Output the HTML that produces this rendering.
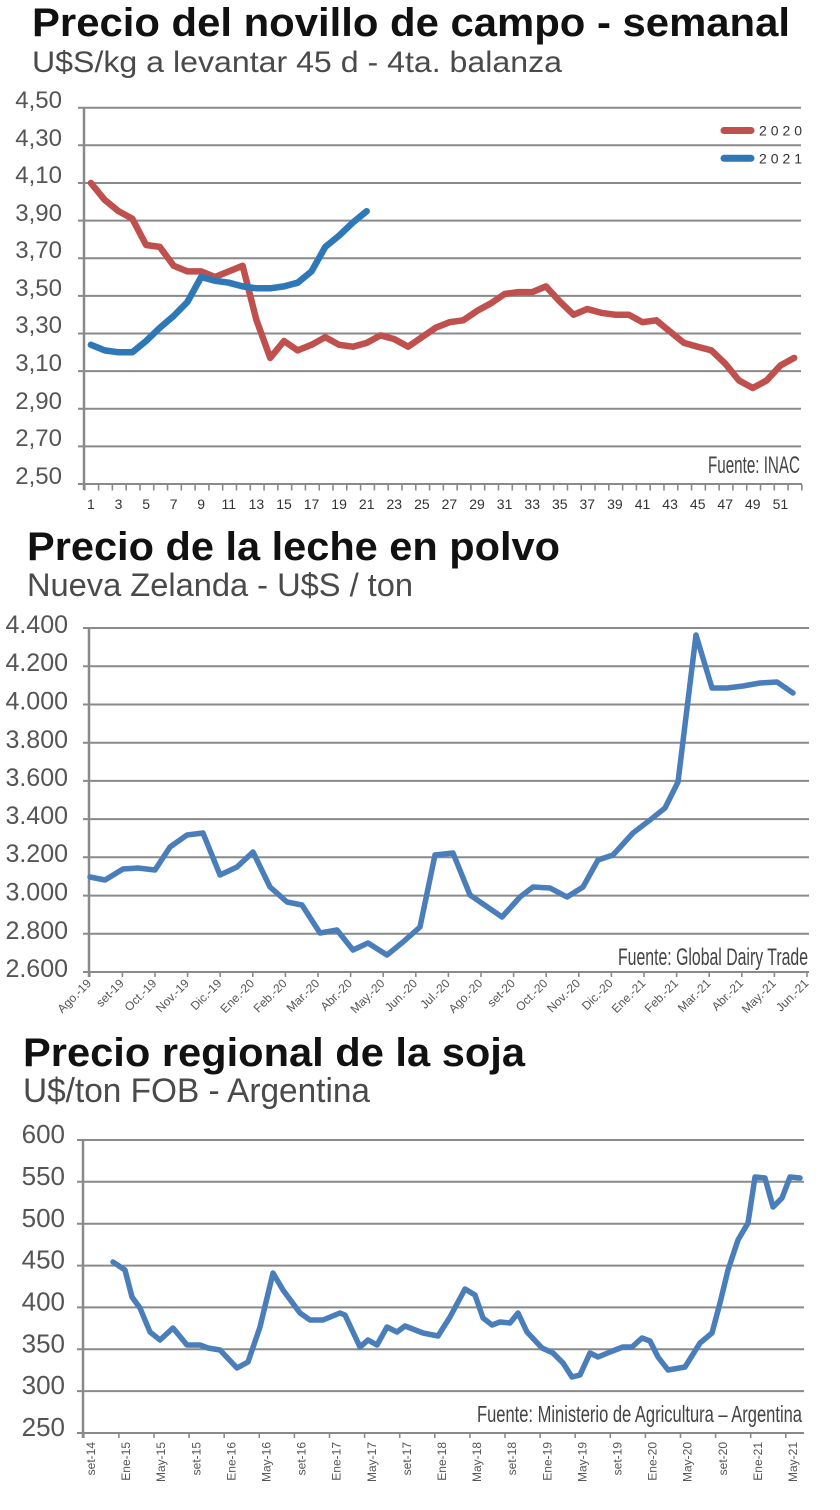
<!DOCTYPE html>
<html><head><meta charset="utf-8">
<style>html,body{margin:0;padding:0;background:#fff}svg{display:block}</style>
</head><body>
<svg width="840" height="1510" viewBox="0 0 840 1510" xmlns="http://www.w3.org/2000/svg" font-family="'Liberation Sans', Arial, sans-serif">
<rect width="840" height="1510" fill="#fff"/>

<!-- ================= CHART 1 ================= -->
<text x="32" y="36" font-size="40" font-weight="bold" fill="#111" textLength="758" lengthAdjust="spacingAndGlyphs">Precio del novillo de campo - semanal</text>
<text x="32" y="72" font-size="30" fill="#4a4a4a" textLength="530" lengthAdjust="spacingAndGlyphs">U$S/kg a levantar 45 d - 4ta. balanza</text>

<g stroke="#8a8a8a" stroke-width="2">
<line x1="78" y1="107.7" x2="801" y2="107.7"/>
<line x1="78" y1="145.3" x2="801" y2="145.3"/>
<line x1="78" y1="183" x2="801" y2="183"/>
<line x1="78" y1="220.6" x2="801" y2="220.6"/>
<line x1="78" y1="258.2" x2="801" y2="258.2"/>
<line x1="78" y1="295.9" x2="801" y2="295.9"/>
<line x1="78" y1="333.5" x2="801" y2="333.5"/>
<line x1="78" y1="371.1" x2="801" y2="371.1"/>
<line x1="78" y1="408.7" x2="801" y2="408.7"/>
<line x1="78" y1="446.4" x2="801" y2="446.4"/>
<line x1="78" y1="484" x2="802" y2="484"/>
<line x1="84" y1="107" x2="84" y2="490" stroke-width="2.5"/>
</g>
<line x1="84" y1="487.5" x2="803" y2="487.5" stroke="#8a8a8a" stroke-width="6" stroke-dasharray="1.6 12.19"/>

<g font-size="24" fill="#555" text-anchor="end">
<text x="62" y="108">4,50</text>
<text x="62" y="146">4,30</text>
<text x="62" y="183">4,10</text>
<text x="62" y="221">3,90</text>
<text x="62" y="258">3,70</text>
<text x="62" y="296">3,50</text>
<text x="62" y="333">3,30</text>
<text x="62" y="371">3,10</text>
<text x="62" y="409">2,90</text>
<text x="62" y="446">2,70</text>
<text x="62" y="484">2,50</text>
</g>

<g font-size="14" fill="#333" text-anchor="middle">
<text x="90.9" y="509">1</text><text x="118.5" y="509">3</text><text x="146.1" y="509">5</text>
<text x="173.6" y="509">7</text><text x="201.2" y="509">9</text><text x="228.8" y="509">11</text>
<text x="256.4" y="509">13</text><text x="284" y="509">15</text><text x="311.5" y="509">17</text>
<text x="339.1" y="509">19</text><text x="366.7" y="509">21</text><text x="394.3" y="509">23</text>
<text x="421.9" y="509">25</text><text x="449.4" y="509">27</text><text x="477" y="509">29</text>
<text x="504.6" y="509">31</text><text x="532.2" y="509">33</text><text x="559.8" y="509">35</text>
<text x="587.3" y="509">37</text><text x="614.9" y="509">39</text><text x="642.5" y="509">41</text>
<text x="670.1" y="509">43</text><text x="697.7" y="509">45</text><text x="725.2" y="509">47</text>
<text x="752.8" y="509">49</text><text x="780.4" y="509">51</text>
</g>

<text x="708" y="473" font-size="24" fill="#444" font-family="'Liberation Sans Narrow','Liberation Sans',sans-serif" textLength="92" lengthAdjust="spacingAndGlyphs">Fuente: INAC</text>

<!-- legend -->
<line x1="724" y1="130.5" x2="751" y2="130.5" stroke="#c0504d" stroke-width="7" stroke-linecap="round"/>
<text x="759" y="135.5" font-size="14" fill="#333" textLength="43" lengthAdjust="spacing">2020</text>
<line x1="724" y1="158.3" x2="751" y2="158.3" stroke="#2e78b7" stroke-width="7" stroke-linecap="round"/>
<text x="759" y="163.3" font-size="14" fill="#333" textLength="43" lengthAdjust="spacing">2021</text>

<polyline fill="none" stroke="#c0504d" stroke-width="6.5" stroke-linejoin="round" stroke-linecap="round"
points="90.9,183 104.7,199.9 118.5,211.2 132.3,218.7 146.1,245 159.8,246.9 173.6,265.7 187.4,271.4 201.2,271.4 215,277 228.8,271.4 242.6,265.7 256.4,320 270.2,357.9 284,341 297.7,350.4 311.5,344.8 325.3,337.2 339.1,344.8 352.9,346.7 366.7,342.9 380.5,335.4 394.3,339.1 408.1,346.7 421.9,337.2 435.6,327.8 449.4,322.2 463.2,320.3 477,310.9 490.8,303.4 504.6,294 518.4,292.1 532.2,292.1 546,286.4 559.8,301.5 573.5,314.7 587.3,309 601.1,312.8 614.9,314.7 628.7,314.7 642.5,322.2 656.3,320.3 670.1,331.6 683.9,342.9 697.7,346.7 711.4,350.4 725.2,363.6 739,380.5 752.8,388 766.6,380.5 780.4,365.5 794.2,357.9"/>
<polyline fill="none" stroke="#2e78b7" stroke-width="6.5" stroke-linejoin="round" stroke-linecap="round"
points="90.9,344.8 104.7,350.4 118.5,352.3 132.3,352.3 146.1,341 159.8,327.8 173.6,316 187.4,302 201.2,277 215,280.8 228.8,282.7 242.6,286.4 256.4,288.3 270.2,288.3 284,286.4 297.7,282.7 311.5,271.4 325.3,246.9 339.1,235.6 352.9,222.5 366.7,211.2"/>

<!-- ================= CHART 2 ================= -->
<text x="27" y="560" font-size="40" font-weight="bold" fill="#111" textLength="533" lengthAdjust="spacingAndGlyphs">Precio de la leche en polvo</text>
<text x="27" y="596" font-size="32" fill="#4a4a4a" textLength="386" lengthAdjust="spacingAndGlyphs">Nueva Zelanda - U$S / ton</text>

<g stroke="#8a8a8a" stroke-width="2">
<line x1="83" y1="628" x2="809" y2="628"/>
<line x1="83" y1="666.2" x2="809" y2="666.2"/>
<line x1="83" y1="704.5" x2="809" y2="704.5"/>
<line x1="83" y1="742.7" x2="809" y2="742.7"/>
<line x1="83" y1="780.9" x2="809" y2="780.9"/>
<line x1="83" y1="819.1" x2="809" y2="819.1"/>
<line x1="83" y1="857.3" x2="809" y2="857.3"/>
<line x1="83" y1="895.6" x2="809" y2="895.6"/>
<line x1="83" y1="933.8" x2="809" y2="933.8"/>
<line x1="83" y1="972" x2="809" y2="972"/>
<line x1="89" y1="627" x2="89" y2="977" stroke-width="2.5"/>
</g>
<line x1="89" y1="974.5" x2="808" y2="974.5" stroke="#8a8a8a" stroke-width="5" stroke-dasharray="1.6 31"/>

<g font-size="25" fill="#555" text-anchor="end">
<text x="68" y="633">4.400</text>
<text x="68" y="671">4.200</text>
<text x="68" y="709.5">4.000</text>
<text x="68" y="748">3.800</text>
<text x="68" y="786">3.600</text>
<text x="68" y="824">3.400</text>
<text x="68" y="862">3.200</text>
<text x="68" y="900.5">3.000</text>
<text x="68" y="939">2.800</text>
<text x="68" y="977">2.600</text>
</g>

<g font-size="12" fill="#555" text-anchor="end">
<text transform="translate(92,984) rotate(-45)">Ago.-19</text>
<text transform="translate(124.6,984) rotate(-45)">set-19</text>
<text transform="translate(157.2,984) rotate(-45)">Oct.-19</text>
<text transform="translate(189.8,984) rotate(-45)">Nov.-19</text>
<text transform="translate(222.4,984) rotate(-45)">Dic.-19</text>
<text transform="translate(255,984) rotate(-45)">Ene.-20</text>
<text transform="translate(287.6,984) rotate(-45)">Feb.-20</text>
<text transform="translate(320.2,984) rotate(-45)">Mar.-20</text>
<text transform="translate(352.8,984) rotate(-45)">Abr.-20</text>
<text transform="translate(385.4,984) rotate(-45)">May.-20</text>
<text transform="translate(418,984) rotate(-45)">Jun.-20</text>
<text transform="translate(450.6,984) rotate(-45)">Jul.-20</text>
<text transform="translate(483.2,984) rotate(-45)">Ago.-20</text>
<text transform="translate(515.8,984) rotate(-45)">set-20</text>
<text transform="translate(548.4,984) rotate(-45)">Oct.-20</text>
<text transform="translate(581,984) rotate(-45)">Nov.-20</text>
<text transform="translate(613.6,984) rotate(-45)">Dic.-20</text>
<text transform="translate(646.2,984) rotate(-45)">Ene.-21</text>
<text transform="translate(678.8,984) rotate(-45)">Feb.-21</text>
<text transform="translate(711.4,984) rotate(-45)">Mar.-21</text>
<text transform="translate(744,984) rotate(-45)">Abr.-21</text>
<text transform="translate(776.6,984) rotate(-45)">May.-21</text>
<text transform="translate(809.2,984) rotate(-45)">Jun.-21</text>
</g>

<text x="618" y="965" font-size="24" fill="#444" font-family="'Liberation Sans Narrow','Liberation Sans',sans-serif" textLength="190" lengthAdjust="spacingAndGlyphs">Fuente: Global Dairy Trade</text>

<polyline fill="none" stroke="#4a7ebb" stroke-width="5.5" stroke-linejoin="round" stroke-linecap="round"
points="90,877 105,880 123,869 138,868 155,870 170,847 187,835 203,833 220,875 237,867 253,852 270,887 287,902 302,905 320,933 337,930 353,950 368,943 387,955 403,942 420,927 435,855 453,853 470,895 502,917 520,897 533,887 550,888 567,897 583,887 598,860 613,855 633,833 650,820 665,808 678,782 696,635 712,688 727,688 743,686 760,683 777,682 793,693"/>

<!-- ================= CHART 3 ================= -->
<text x="23" y="1066" font-size="40" font-weight="bold" fill="#111" textLength="502" lengthAdjust="spacingAndGlyphs">Precio regional de la soja</text>
<text x="23" y="1102" font-size="34" fill="#4a4a4a" textLength="347" lengthAdjust="spacingAndGlyphs">U$/ton FOB - Argentina</text>

<g stroke="#8a8a8a" stroke-width="2">
<line x1="77" y1="1140" x2="804" y2="1140"/>
<line x1="77" y1="1181.8" x2="804" y2="1181.8"/>
<line x1="77" y1="1223.7" x2="804" y2="1223.7"/>
<line x1="77" y1="1265.6" x2="804" y2="1265.6"/>
<line x1="77" y1="1307.4" x2="804" y2="1307.4"/>
<line x1="77" y1="1349.3" x2="804" y2="1349.3"/>
<line x1="77" y1="1391.1" x2="804" y2="1391.1"/>
<line x1="77" y1="1433" x2="804" y2="1433"/>
<line x1="83" y1="1139" x2="83" y2="1438" stroke-width="2.5"/>
</g>
<line x1="83" y1="1435.5" x2="790" y2="1435.5" stroke="#8a8a8a" stroke-width="5" stroke-dasharray="1.6 33.5"/>

<g font-size="26" fill="#555" text-anchor="end">
<text x="65" y="1143">600</text>
<text x="65" y="1185">550</text>
<text x="65" y="1227">500</text>
<text x="65" y="1268.5">450</text>
<text x="65" y="1310.5">400</text>
<text x="65" y="1352.5">350</text>
<text x="65" y="1394">300</text>
<text x="65" y="1436">250</text>
</g>

<g font-size="12" fill="#555" text-anchor="end">
<text transform="translate(95,1442) rotate(-90)">set-14</text>
<text transform="translate(130.1,1442) rotate(-90)">Ene-15</text>
<text transform="translate(165.2,1442) rotate(-90)">May-15</text>
<text transform="translate(200.3,1442) rotate(-90)">set-15</text>
<text transform="translate(235.4,1442) rotate(-90)">Ene-16</text>
<text transform="translate(270.5,1442) rotate(-90)">May-16</text>
<text transform="translate(305.6,1442) rotate(-90)">set-16</text>
<text transform="translate(340.7,1442) rotate(-90)">Ene-17</text>
<text transform="translate(375.8,1442) rotate(-90)">May-17</text>
<text transform="translate(410.9,1442) rotate(-90)">set-17</text>
<text transform="translate(446,1442) rotate(-90)">Ene-18</text>
<text transform="translate(481.1,1442) rotate(-90)">May-18</text>
<text transform="translate(516.2,1442) rotate(-90)">set-18</text>
<text transform="translate(551.3,1442) rotate(-90)">Ene-19</text>
<text transform="translate(586.4,1442) rotate(-90)">May-19</text>
<text transform="translate(621.5,1442) rotate(-90)">set-19</text>
<text transform="translate(656.6,1442) rotate(-90)">Ene-20</text>
<text transform="translate(691.7,1442) rotate(-90)">May-20</text>
<text transform="translate(726.8,1442) rotate(-90)">set-20</text>
<text transform="translate(761.9,1442) rotate(-90)">Ene-21</text>
<text transform="translate(797,1442) rotate(-90)">May-21</text>
</g>

<text x="477" y="1422" font-size="23" fill="#444" font-family="'Liberation Sans Narrow','Liberation Sans',sans-serif" textLength="325" lengthAdjust="spacingAndGlyphs">Fuente: Ministerio de Agricultura – Argentina</text>

<polyline fill="none" stroke="#4a7ebb" stroke-width="5.5" stroke-linejoin="round" stroke-linecap="round"
points="113,1262 125,1270 132,1297 140,1308 150,1332 160,1340 173,1328 187,1345 200,1345 208,1348 220,1350 237,1368 248,1362 260,1327 273,1273 283,1290 300,1313 310,1320 323,1320 340,1313 345,1315 360,1347 368,1340 377,1345 387,1327 397,1332 405,1326 423,1333 438,1336 450,1317 465,1289 475,1295 483,1318 492,1325 500,1322 510,1323 518,1313 527,1332 542,1348 553,1353 563,1363 572,1377 580,1375 590,1353 598,1357 610,1352 623,1347 632,1347 642,1338 650,1341 658,1357 668,1370 685,1367 700,1343 712,1333 720,1303 728,1270 738,1240 748,1223 755,1177 765,1178 773,1207 782,1198 790,1177 800,1178"/>
</svg>
</body></html>
